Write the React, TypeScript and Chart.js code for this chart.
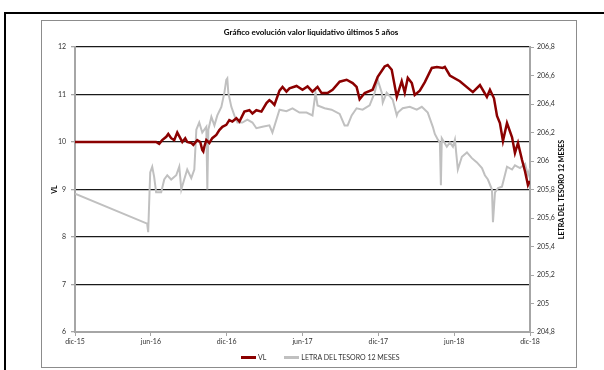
import React, { useEffect, useRef } from "react";
import { Chart, registerables } from "chart.js";

Chart.register(...registerables);

const titleText = "Gráfico evolución valor liquidativo últimos 5 años";
const vlLabel = "VL";
const letraLabel = "LETRA DEL TESORO 12 MESES";
const xTickLabels = ["dic-15", "jun-16", "dic-16", "jun-17", "dic-17", "jun-18", "dic-18"];

// Months elapsed since dic-15 for each VL reading
const vlMonths = [
  0, 6.26, 6.42, 6.66, 6.9, 7.22, 7.38, 7.61, 7.85, 8.09,
  8.33, 8.49, 8.72, 8.88, 9.2, 9.36, 9.67, 9.91, 10.07, 10.15,
  10.23, 10.39, 10.63, 10.86, 11.18, 11.42, 11.66, 11.97, 12.21, 12.45,
  12.77, 13.01, 13.4, 13.8, 14.04, 14.35, 14.75, 15.15, 15.38, 15.54,
  15.78, 16.18, 16.42, 16.73, 16.97, 17.53, 18.0, 18.4, 18.79, 19.19,
  19.51, 19.98, 20.38, 20.94, 21.49, 21.97, 22.28, 22.52, 22.92, 23.55,
  23.95, 24.5, 24.74, 25.06, 25.46, 25.85, 26.09, 26.33, 26.65, 26.88,
  27.28, 27.68, 28.23, 28.63, 29.1, 29.26, 29.66, 30.45, 31.48, 32.04,
  32.59, 32.83, 33.15, 33.39, 33.62, 33.86, 34.18, 34.58, 34.81, 35.05,
  35.37, 35.61, 35.84, 36.0,
];
const vlValues = [
  10.0, 10.0, 10.0, 9.96, 10.04, 10.11, 10.17, 10.08, 10.04, 10.2,
  10.08, 10.0, 10.08, 10.0, 9.98, 9.94, 10.04, 10.0, 9.83, 9.8,
  9.9, 10.04, 9.98, 10.08, 10.15, 10.25, 10.32, 10.36, 10.46, 10.43,
  10.5, 10.43, 10.64, 10.67, 10.6, 10.67, 10.64, 10.82, 10.88, 10.85,
  10.78, 11.08, 11.16, 11.06, 11.13, 11.18, 11.1, 11.17, 11.06, 11.16,
  11.03, 11.03, 11.1, 11.27, 11.31, 11.24, 11.16, 10.9, 11.03, 11.1,
  11.37, 11.59, 11.62, 11.52, 10.95, 11.28, 11.04, 11.35, 11.24, 10.99,
  11.08, 11.26, 11.56, 11.58, 11.56, 11.58, 11.4, 11.28, 11.05, 11.2,
  10.95, 11.1, 10.92, 10.55, 10.4, 10.02, 10.4, 10.1, 9.77, 9.98,
  9.62, 9.38, 9.09, 9.18,
];

// Months elapsed since dic-15 for each 12-month bill reading
const letraMonths = [
  0, 5.71, 5.79, 5.95, 6.11, 6.26, 6.42, 6.82, 7.06, 7.3,
  7.61, 8.01, 8.25, 8.41, 8.64, 8.88, 9.2, 9.44, 9.6, 9.83,
  10.07, 10.39, 10.47, 10.55, 10.79, 11.03, 11.26, 11.58, 11.82, 11.97,
  12.05, 12.13, 12.37, 12.61, 12.85, 13.24, 13.64, 14.04, 14.35, 14.83,
  15.38, 15.62, 16.18, 16.73, 17.21, 17.76, 18.32, 18.79, 19.03, 19.19,
  19.75, 20.3, 20.94, 21.33, 21.57, 21.89, 22.28, 22.76, 23.31, 23.71,
  23.95, 24.27, 24.35, 24.66, 25.14, 25.46, 25.54, 25.93, 26.49, 27.04,
  27.44, 27.91, 28.31, 28.47, 28.71, 28.87, 28.95, 29.02, 29.42, 29.66,
  29.9, 30.06, 30.29, 30.61, 31.01, 31.4, 31.8, 32.2, 32.43, 32.67,
  32.99, 33.07, 33.23, 33.47, 33.78, 34.18, 34.58, 34.81, 35.21, 35.61,
  35.84, 36.0,
];
const letraValues = [
  205.77, 205.56, 205.5, 205.92, 205.96, 205.89, 205.78, 205.78, 205.87, 205.9,
  205.87, 205.9, 205.96, 205.8, 205.87, 205.94, 205.88, 205.94, 206.22, 206.27,
  206.2, 206.24, 205.8, 206.22, 206.31, 206.25, 206.32, 206.38, 206.48, 206.57,
  206.58, 206.48, 206.38, 206.32, 206.27, 206.27, 206.29, 206.27, 206.23, 206.24,
  206.25, 206.2, 206.36, 206.35, 206.37, 206.34, 206.34, 206.32, 206.48, 206.39,
  206.37, 206.36, 206.33, 206.25, 206.25, 206.32, 206.37, 206.36, 206.39, 206.48,
  206.57, 206.48, 206.41, 206.48, 206.43, 206.32, 206.34, 206.37, 206.38, 206.36,
  206.38, 206.34, 206.24, 206.19, 206.15, 206.13, 205.83, 206.16, 206.1, 206.13,
  206.1, 206.15, 205.94, 206.03, 206.06, 206.02, 205.99, 205.95, 205.9, 205.87,
  205.8, 205.57, 205.78, 205.81, 205.82, 205.96, 205.94, 205.97, 205.95, 205.98,
  205.9, 205.95,
];

const FONT = "Lato, 'Open Sans', sans-serif";
const VL_COLOR = "#8b0000";
const LETRA_COLOR = "#c0c0c0";
const AXIS_COLOR = "#a6a6a6";
const TEXT_COLOR = "#333333";

const fmtComma = (v: number) => String(Number(v.toFixed(1))).replace(".", ",");

// Rotated axis titles on both sides of the plot
const axisTitlesPlugin = {
  id: "axisTitles",
  afterDraw(chart: any) {
    const { ctx, chartArea } = chart;
    const midY = (chartArea.top + chartArea.bottom) / 2;
    ctx.save();
    ctx.font = `bold 7px ${FONT}`;
    ctx.fillStyle = "#000";
    ctx.textAlign = "center";
    ctx.textBaseline = "middle";
    ctx.save();
    ctx.translate(chartArea.left - 20, midY);
    ctx.rotate(-Math.PI / 2);
    ctx.fillText(vlLabel, 0, 0);
    ctx.restore();
    ctx.save();
    ctx.translate(chartArea.right + 32, midY);
    ctx.rotate(-Math.PI / 2);
    ctx.fillText(letraLabel, 0, 0);
    ctx.restore();
    ctx.restore();
  },
};

export default function App() {
  const canvasRef = useRef<HTMLCanvasElement | null>(null);

  useEffect(() => {
    if (!canvasRef.current) return;
    const chart = new Chart(canvasRef.current, {
      type: "line",
      data: {
        datasets: [
          {
            label: vlLabel,
            data: vlMonths.map((m, i) => ({ x: m, y: vlValues[i] })),
            borderColor: VL_COLOR,
            backgroundColor: VL_COLOR,
            borderWidth: 2.5,
            pointRadius: 0,
            tension: 0,
            yAxisID: "y",
          },
          {
            label: letraLabel,
            data: letraMonths.map((m, i) => ({ x: m, y: letraValues[i] })),
            borderColor: LETRA_COLOR,
            backgroundColor: LETRA_COLOR,
            borderWidth: 2,
            pointRadius: 0,
            tension: 0,
            yAxisID: "y1",
          },
        ],
      },
      options: {
        responsive: false,
        animation: false,
        devicePixelRatio: 1,
        layout: { padding: { left: 40, right: 30, top: 47, bottom: 0 } },
        plugins: {
          legend: { display: false },
          title: { display: false },
          tooltip: { enabled: false },
        },
        scales: {
          x: {
            type: "linear",
            min: 0,
            max: 36,
            afterFit: (s: any) => {
              s.height = 38;
            },
            afterBuildTicks: (s: any) => {
              s.ticks = xTickLabels.map((_, i) => ({ value: i * 6 }));
            },
            ticks: {
              autoSkip: false,
              maxRotation: 0,
              padding: 2,
              color: TEXT_COLOR,
              font: { family: FONT, size: 7 },
              callback: (v: any) => xTickLabels[Math.round(Number(v) / 6)] ?? "",
            },
            grid: {
              drawOnChartArea: false,
              drawTicks: true,
              tickLength: 4,
              tickColor: AXIS_COLOR,
            },
            border: { color: AXIS_COLOR, width: 2 },
          },
          y: {
            position: "left",
            min: 6,
            max: 12,
            afterFit: (s: any) => {
              s.width = 35;
            },
            ticks: {
              stepSize: 1,
              padding: 5,
              color: TEXT_COLOR,
              font: { family: FONT, size: 7 },
            },
            grid: {
              color: (c: any) => (c.tick && c.tick.value === 6 ? "rgba(0,0,0,0)" : "#1a1a1a"),
              lineWidth: 1.3,
              tickColor: AXIS_COLOR,
              tickLength: 4,
            },
            border: { color: AXIS_COLOR, width: 2 },
          },
          y1: {
            position: "right",
            min: 204.8,
            max: 206.8,
            afterFit: (s: any) => {
              s.width = 44;
            },
            ticks: {
              stepSize: 0.2,
              padding: 3,
              color: TEXT_COLOR,
              font: { family: FONT, size: 7 },
              callback: (v: any) => fmtComma(Number(v)),
            },
            grid: {
              drawOnChartArea: false,
              tickColor: AXIS_COLOR,
              tickLength: 4,
            },
            border: { color: AXIS_COLOR, width: 2 },
          },
        },
      },
      plugins: [axisTitlesPlugin],
    });
    return () => chart.destroy();
  }, []);

  return (
    <div
      style={{
        position: "absolute",
        left: 0,
        top: 0,
        width: 604,
        height: 370,
        overflow: "hidden",
        background: "#fff",
        fontFamily: FONT,
      }}
    >
      {/* outer frame */}
      <div
        style={{
          position: "absolute",
          left: 4,
          top: 12,
          width: 620,
          height: 380,
          border: "2px solid #000",
          boxSizing: "border-box",
        }}
      />
      {/* chart box */}
      <div
        style={{
          position: "absolute",
          left: 41,
          top: 20,
          width: 536,
          height: 348,
          border: "1px solid #8c8c8c",
          boxSizing: "border-box",
        }}
      />
      <canvas
        ref={canvasRef}
        width={604}
        height={370}
        style={{ position: "absolute", left: 0, top: 0, width: 604, height: 370 }}
      />
      <div
        style={{
          position: "absolute",
          left: 0,
          width: 622,
          top: 26,
          textAlign: "center",
          fontSize: 8,
          fontWeight: "bold",
          color: "#000",
          lineHeight: "12px",
        }}
      >
        {titleText}
      </div>
      <div
        style={{
          position: "absolute",
          left: 241,
          top: 351,
          display: "flex",
          alignItems: "center",
          fontSize: 7,
          color: TEXT_COLOR,
          lineHeight: "12px",
          whiteSpace: "nowrap",
        }}
      >
        <span style={{ display: "inline-block", width: 15, height: 3, background: VL_COLOR }} />
        <span style={{ marginLeft: 2 }}>{vlLabel}</span>
        <span style={{ display: "inline-block", width: 15, height: 3, background: LETRA_COLOR, marginLeft: 18 }} />
        <span style={{ marginLeft: 2 }}>{letraLabel}</span>
      </div>
    </div>
  );
}
